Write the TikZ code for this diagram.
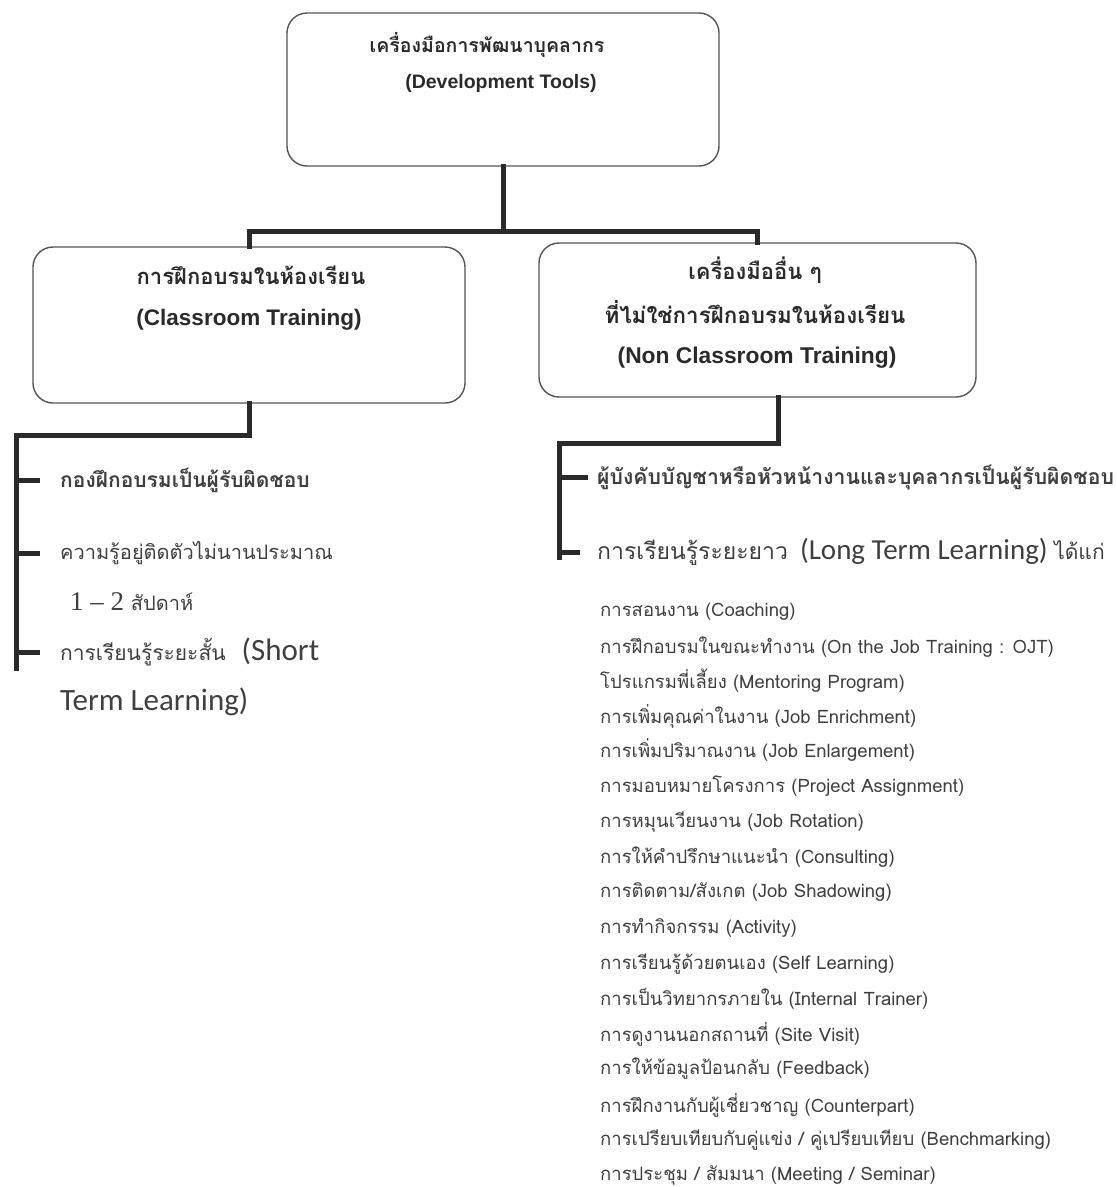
\documentclass[tikz,border=0pt]{standalone}
\usepackage{fontspec}
\newfontfamily\thai[Script=Thai]{Loma}
\newfontfamily\arialf{Liberation Sans}
\newfontfamily\calib{Carlito}
\newfontfamily\serifn{Liberation Serif}
\definecolor{ink}{HTML}{2A2A2A}
\definecolor{edge}{HTML}{555555}
\tikzset{
  box/.style={draw=edge, line width=1.4pt, rounded corners=20pt, minimum width=#1, inner sep=0pt},
  boxh/.style={minimum height=#1},
  conn/.style={draw=ink, line width=5pt, line cap=rect},
  tick/.style={draw=ink, line width=5pt},
  txt/.style={inner sep=0pt, text=ink},
  item/.style={inner sep=0pt, anchor=west, text=ink!90},
}
\begin{document}
\begin{tikzpicture}[x=1pt,y=-1pt]
\useasboundingbox (0,0) rectangle (1117,1187);
% boxes
\node[box=432pt, boxh=153pt] (top) at (503,89.5) {};
\node[box=432pt, boxh=156pt] (lbox) at (249,325) {};
\node[box=437pt, boxh=154pt] (rbox) at (757.5,320) {};
% box texts
\node[txt] (top1) at (487,45) {\thai\bfseries\fontsize{19.5}{22}\selectfont เครื่องมือการพัฒนาบุคลากร};
\node[txt] (top2) at (501,83) {\arialf\bfseries\fontsize{19.5}{22}\selectfont (Development Tools)};
\node[txt] (l1) at (251,275) {\thai\bfseries\fontsize{22}{25}\selectfont การฝึกอบรมในห้องเรียน};
\node[txt] (l2) at (249,320) {\arialf\bfseries\fontsize{22.5}{25}\selectfont (Classroom Training)};
\node[txt] (r1) at (755,270) {\thai\bfseries\fontsize{22}{25}\selectfont เครื่องมืออื่น ๆ};
\node[txt] (r2) at (755,312) {\thai\bfseries\fontsize{22.4}{25}\selectfont ที่ไม่ใช่การฝึกอบรมในห้องเรียน};
\node[txt] (r3) at (757,358) {\arialf\bfseries\fontsize{22.8}{25}\selectfont (Non Classroom Training)};
% top connectors
\coordinate (j1) at (503,231);
\draw[conn] (top.south) -- (j1);
\draw[conn] (lbox.north) |- (j1) -| (rbox.north);
% left list
\node[item] (a1) at (60,480) {\thai\bfseries\fontsize{21}{24}\selectfont กองฝึกอบรมเป็นผู้รับผิดชอบ};
\node[item] (a2) at (60,553) {\thai\fontsize{20}{24}\selectfont ความรู้อยู่ติดตัวไม่นานประมาณ};
\node[item] (a3) at (70,602) {\serifn\fontsize{27}{28}\selectfont 1 – 2 \thai\fontsize{20}{24}\selectfont สัปดาห์};
\node[item] (a4) at (60,652) {\thai\fontsize{21}{24}\selectfont การเรียนรู้ระยะสั้น\hspace{16pt}\calib\fontsize{31}{33}\selectfont (Short};
\node[item] (a5) at (60,702) {\calib\fontsize{31}{33}\selectfont Term Learning)};
\coordinate (lc) at (16,435);
\coordinate (lend) at (16,668);
\draw[conn] (lbox.south) |- (lc) -- (lend);
\draw[tick] (a1.west -| lc) -- ([xshift=-20pt]a1.west);
\draw[tick] (a2.west -| lc) -- ([xshift=-20pt]a2.west);
\draw[tick] (a4.west -| lc) -- ([xshift=-20pt]a4.west);
% right list
\node[item] (b1) at (597,477) {\thai\bfseries\fontsize{21.2}{24}\selectfont ผู้บังคับบัญชาหรือหัวหน้างานและบุคลากรเป็นผู้รับผิดชอบ};
\node[item] (b2) at (597,552) {\thai\fontsize{23}{26}\selectfont การเรียนรู้ระยะยาว\hspace{12pt}\calib\fontsize{29}{31}\selectfont (Long Term Learning) \thai\fontsize{21}{24}\selectfont ได้แก่};
\coordinate (rc) at (559,443);
\coordinate (rend) at (559,557);
\draw[conn] (rbox.south -| 778,0) |- (rc) -- (rend);
\draw[tick] (b1.west -| rc) -- ([xshift=-9pt]b1.west);
\draw[tick] (b2.west -| rc) -- ([xshift=-17pt]b2.west);
% long list
\begin{scope}[every node/.style={item, font=\thai\fontsize{18.5}{21}\selectfont}]
\node (c1)  at (600,612) {การสอนงาน (Coaching)};
\node (c2)  at (600,647) {การฝึกอบรมในขณะทำงาน (On the Job Training : OJT)};
\node (c3)  at (600,681) {โปรแกรมพี่เลี้ยง (Mentoring Program)};
\node (c4)  at (600,716) {การเพิ่มคุณค่าในงาน (Job Enrichment)};
\node (c5)  at (600,750) {การเพิ่มปริมาณงาน (Job Enlargement)};
\node (c6)  at (600,786) {การมอบหมายโครงการ (Project Assignment)};
\node (c7)  at (600,822) {การหมุนเวียนงาน (Job Rotation)};
\node (c8)  at (600,857) {การให้คำปรึกษาแนะนำ (Consulting)};
\node (c9)  at (600,892) {การติดตาม/สังเกต (Job Shadowing)};
\node (c10) at (600,928) {การทำกิจกรรม (Activity)};
\node (c11) at (600,964) {การเรียนรู้ด้วยตนเอง (Self Learning)};
\node (c12) at (600,999) {การเป็นวิทยากรภายใน (Internal Trainer)};
\node (c13) at (600,1034) {การดูงานนอกสถานที่ (Site Visit)};
\node (c14) at (600,1069) {การให้ข้อมูลป้อนกลับ (Feedback)};
\node (c15) at (600,1105) {การฝึกงานกับผู้เชี่ยวชาญ (Counterpart)};
\node (c16) at (600,1140) {การเปรียบเทียบกับคู่แข่ง / คู่เปรียบเทียบ (Benchmarking)};
\node (c17) at (600,1176) {การประชุม / สัมมนา (Meeting / Seminar)};
\end{scope}
\end{tikzpicture}
\end{document}
